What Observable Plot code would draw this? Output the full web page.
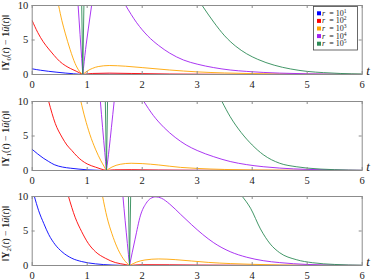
<!DOCTYPE html>
<html><head><meta charset="utf-8">
<script src="https://cdn.jsdelivr.net/npm/d3@7"></script>
<script src="https://cdn.jsdelivr.net/npm/@observablehq/plot@0.6"></script>
<style>
body{margin:0;background:#fff}
#chart svg{display:block}
</style>
</head><body><div id="chart"></div>
<script>
// ---- data ----
const rExponents = ["1", "2", "3", "4", "5"];
const seriesColors = ["#0000ff", "#ff0000", "#ffa500", "#a020f0", "#2e8b57"];
const xTicks = [0, 1, 2, 3, 4, 5, 6];
const yTicks = [0, 5, 10];
const panelIndices = ["0", "1", "2"];

// Panel Y0 (each series is a list of segments of [t, value])
const Y0_r1 = [
  [[0,0.82],[0.15,0.62],[0.3,0.46],[0.45,0.33],[0.6,0.21],[0.75,0.11],[0.92,0]],
  [[0.92,0],[1.2,0.04],[1.6,0.03],[2.5,0.01],[6,0]]
];
const Y0_r2 = [
  [[0,7.8],[0.1,6.1],[0.2,4.75],[0.3,3.7],[0.4,2.75],[0.5,1.9],[0.6,1.3],[0.7,0.85],[0.8,0.48],[0.92,0]],
  [[0.92,0],[1.1,0.15],[1.4,0.2],[1.8,0.15],[2.5,0.07],[3.5,0.02],[6,0]]
];
const Y0_r3 = [
  [[0.48,10],[0.54,7.8],[0.6,6.0],[0.69,3.6],[0.78,1.6],[0.86,0.45],[0.92,0]],
  [[0.92,0],[1.0,0.5],[1.1,0.9],[1.2,1.15],[1.4,1.3],[1.7,1.2],[2.0,1.0],[2.5,0.65],[3.0,0.38],[3.5,0.22],[4.0,0.13],[5.0,0.05],[6.0,0.02]]
];
const Y0_r4 = [
  [[0.835,10],[0.87,5.8],[0.9,2.3],[0.92,0]],
  [[0.92,0],[0.97,3.6],[1.02,6.6],[1.08,10]],
  [[1.70,10],[1.9,7.5],[2.1,5.6],[2.3,4.2],[2.5,3.1],[2.75,2.1],[3.0,1.5],[3.3,1.0],[3.6,0.65],[3.9,0.45],[4.2,0.3],[4.5,0.2],[5.0,0.1],[5.5,0.05],[6.0,0.02]]
];
const Y0_r5 = [
  [[0.9,10],[0.92,0]],
  [[0.92,0],[0.94,10]],
  [[3.09,10],[3.3,7.6],[3.5,5.6],[3.7,4.1],[3.9,3.0],[4.1,2.2],[4.4,1.35],[4.7,0.8],[5.0,0.45],[5.3,0.27],[5.6,0.15],[6.0,0.07]]
];

// Panel Y1
const Y1_r1 = [
  [[0,3.06],[0.1,2.4],[0.2,1.8],[0.3,1.3],[0.4,0.85],[0.55,0.5],[0.7,0.33],[0.85,0.2],[1.0,0.1],[1.2,0.03],[1.35,0]],
  [[1.35,0],[2,0.02],[6,0]]
];
const Y1_r2 = [
  [[0.30,10],[0.42,6.8],[0.54,4.85],[0.63,3.7],[0.72,2.9],[0.81,2.1],[0.90,1.46],[1.0,0.95],[1.15,0.49],[1.25,0.22],[1.35,0]],
  [[1.35,0],[1.5,0.1],[1.8,0.12],[2.3,0.07],[3,0.03],[6,0]]
];
const Y1_r3 = [
  [[0.885,10],[0.96,7.6],[1.05,5.2],[1.15,3.1],[1.25,1.4],[1.31,0.55],[1.35,0]],
  [[1.35,0],[1.45,0.5],[1.6,0.9],[1.8,1.05],[2.0,1.0],[2.3,0.8],[2.7,0.45],[3.0,0.3],[3.5,0.15],[4.0,0.08],[5.0,0.03],[6.0,0.01]]
];
const Y1_r4 = [
  [[1.24,10],[1.28,6.2],[1.32,2.6],[1.35,0]],
  [[1.35,0],[1.40,3.2],[1.44,6.2],[1.49,10]],
  [[2.03,10],[2.2,8],[2.4,6.2],[2.6,4.8],[2.8,3.7],[3.0,2.9],[3.3,2.0],[3.6,1.3],[3.9,0.85],[4.2,0.55],[4.5,0.35],[5.0,0.16],[5.5,0.07],[6.0,0.03]]
];
const Y1_r5 = [
  [[1.33,10],[1.35,0]],
  [[1.35,0],[1.37,10]],
  [[3.45,10],[3.6,7.8],[3.8,5.5],[4.0,3.7],[4.2,2.3],[4.5,1.05],[4.8,0.55],[5.0,0.35],[5.5,0.12],[6.0,0.03]]
];

// Panel Y2
const Y2_r1 = [
  [[0.04,10],[0.115,8.0],[0.21,6.1],[0.30,4.5],[0.42,3.0],[0.54,2.0],[0.72,1.05],[0.90,0.57],[1.15,0.24],[1.45,0.07],[1.77,0]],
  [[1.77,0],[2.5,0.02],[6,0]]
];
const Y2_r2 = [
  [[0.66,10],[0.78,7.0],[0.90,4.9],[1.02,3.2],[1.15,2.0],[1.33,1.05],[1.51,0.43],[1.69,0.14],[1.77,0]],
  [[1.77,0],[2.0,0.12],[2.5,0.1],[3.0,0.06],[4.0,0.02],[6.0,0]]
];
const Y2_r3 = [
  [[1.28,10],[1.36,7.0],[1.45,4.6],[1.54,2.7],[1.63,1.3],[1.72,0.35],[1.77,0]],
  [[1.77,0],[1.9,0.5],[2.05,0.8],[2.3,0.95],[2.6,0.85],[2.9,0.65],[3.2,0.45],[3.6,0.28],[4.0,0.17],[4.5,0.08],[5.0,0.04],[6.0,0.01]]
];
const Y2_r4 = [
  [[1.65,10],[1.69,6.5],[1.73,3.2],[1.77,0]],
  [[1.77,0],[1.87,3.8],[1.97,7.3],[2.07,9.0],[2.15,9.7],[2.25,9.95],[2.35,9.75],[2.5,8.9],[2.7,7.4],[2.9,5.9],[3.1,4.5],[3.3,3.3],[3.6,2.0],[3.9,1.2],[4.2,0.7],[4.5,0.42],[5.0,0.15],[5.5,0.06],[6.0,0.02]]
];
const Y2_r5 = [
  [[1.75,10],[1.77,0]],
  [[1.77,0],[1.79,10]],
  [[3.82,10],[3.97,8.3],[4.15,5.3],[4.33,3.1],[4.5,1.85],[4.8,0.85],[5.1,0.4],[5.5,0.15],[6.0,0.04]]
];

const panelSeries = [
  [Y0_r1, Y0_r2, Y0_r3, Y0_r4, Y0_r5],
  [Y1_r1, Y1_r2, Y1_r3, Y1_r4, Y1_r5],
  [Y2_r1, Y2_r2, Y2_r3, Y2_r4, Y2_r5]
];

// ---- layout ----
const W = 374, ML = 31.7, MR = 12.3;
const panelLayout = [
  {height: 96, top: 5, bottom: 22},
  {height: 95, top: 5, bottom: 21},
  {height: 89, top: 5, bottom: 15}
];
const FONT = "Liberation Serif, DejaVu Serif, serif";
const frameColor = "#8c8c8c";
const textColor = "#222";

const container = document.getElementById("chart");

panelSeries.forEach((series, p) => {
  const L = panelLayout[p];
  const plotH = L.height - L.top - L.bottom;
  const plotW = W - ML - MR;
  const rows = [];
  series.forEach((segs, i) => {
    segs.forEach((seg, j) => {
      seg.forEach(([t, v]) => rows.push({t, v, r: rExponents[i], key: i + "-" + j}));
    });
  });
  const svg = Plot.plot({
    width: W, height: L.height,
    marginLeft: ML, marginRight: MR, marginTop: L.top, marginBottom: L.bottom,
    style: {fontFamily: FONT, fontSize: "10.5px", color: textColor, background: "white", overflow: "visible"},
    x: {domain: [0, 6], ticks: xTicks, tickFormat: d => String(d), tickSize: 0, tickPadding: 6, label: null},
    y: {domain: [0, 10], ticks: yTicks, tickFormat: d => String(d), tickSize: 0, tickPadding: 4, label: null},
    color: {domain: rExponents, range: seriesColors},
    marks: [
      Plot.line(rows, {x: "t", y: "v", z: "key", stroke: "r", strokeWidth: 0.9, curve: "monotone-x", clip: true}),
      Plot.frame({stroke: frameColor, strokeWidth: 1}),
      Plot.tickX(xTicks, {x: d => d, insetTop: plotH - 3, stroke: frameColor}),
      Plot.tickX(xTicks, {x: d => d, insetBottom: plotH - 3, stroke: frameColor}),
      Plot.tickY(yTicks, {y: d => d, insetRight: plotW - 3, stroke: frameColor}),
      Plot.tickY(yTicks, {y: d => d, insetLeft: plotW - 3, stroke: frameColor})
    ]
  });
  const s = d3.select(svg);
  // y-axis label
  const cy = L.top + plotH / 2 + 3;
  const lab = s.append("text")
    .attr("transform", `translate(9,${cy}) rotate(-90)`)
    .attr("text-anchor", "middle")
    .attr("font-family", FONT).attr("font-size", 10).attr("fill", textColor);
  lab.append("tspan").text("‖");
  lab.append("tspan").attr("font-weight", "bold").text("Y");
  lab.append("tspan").attr("font-size", 7).attr("dy", 2).text(panelIndices[p]);
  lab.append("tspan").attr("dy", -2).text("(");
  lab.append("tspan").attr("font-style", "italic").text("t");
  lab.append("tspan").text(") − ");
  lab.append("tspan").attr("font-weight", "bold").text("1");
  lab.append("tspan").attr("font-style", "italic").text("ū");
  lab.append("tspan").text("(");
  lab.append("tspan").attr("font-style", "italic").text("t");
  lab.append("tspan").text(")‖");
  // x-axis "t" label
  s.append("text")
    .attr("x", W - 6).attr("y", L.top + plotH + 1)
    .attr("text-anchor", "middle")
    .attr("font-family", FONT).attr("font-style", "italic").attr("font-size", 13)
    .attr("fill", textColor).text("t");
  // legend on the first panel
  if (p === 0) {
    const g = s.append("g").attr("transform", "translate(313.5,6.5)");
    g.append("rect").attr("width", 44).attr("height", 43.5)
      .attr("fill", "white").attr("stroke", "#444").attr("stroke-width", 0.8);
    rExponents.forEach((e, i) => {
      const y = 6.8 + i * 7.6;
      g.append("rect").attr("x", 3.5).attr("y", y - 2).attr("width", 4).attr("height", 4).attr("fill", seriesColors[i]);
      const t = g.append("text").attr("y", y + 2.5)
        .attr("font-family", FONT).attr("font-size", 8).attr("fill", textColor);
      t.append("tspan").attr("x", 10).attr("font-style", "italic").text("r");
      t.append("tspan").attr("x", 18).text("=");
      t.append("tspan").attr("x", 27.5).text("10");
      t.append("tspan").attr("font-size", 5.5).attr("dy", -3).text(e);
    });
  }
  container.appendChild(svg);
});
</script>
</body></html>
